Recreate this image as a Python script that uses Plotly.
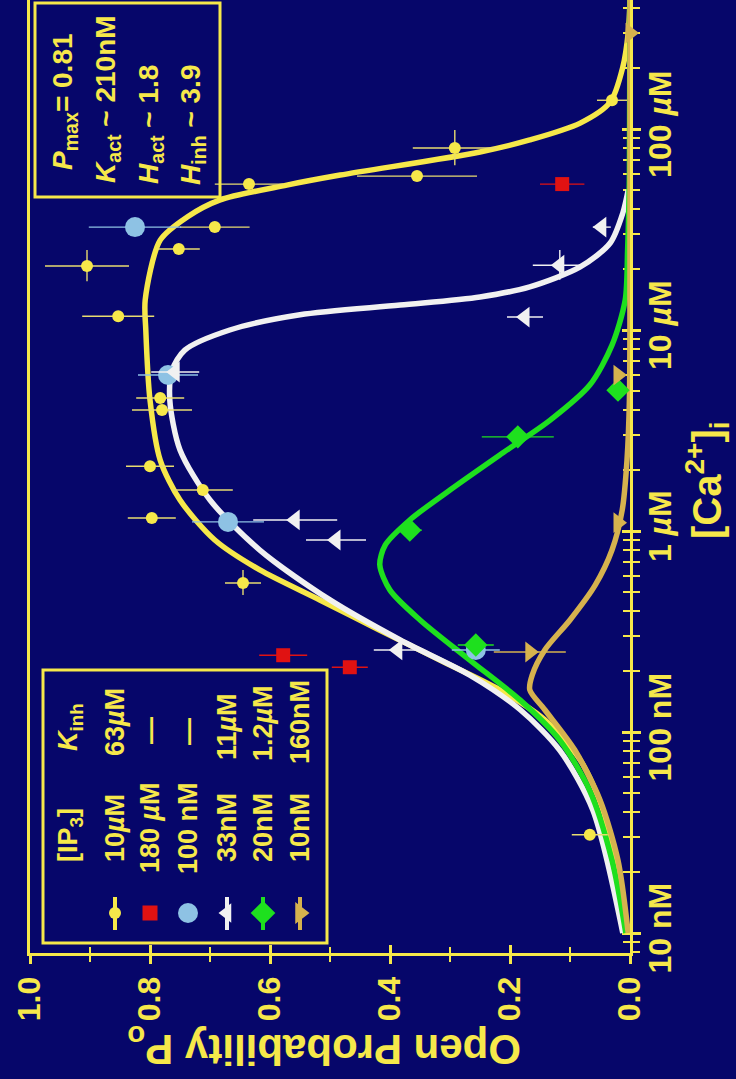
import plotly.graph_objects as go

# ---------------------------------------------------------------
# IP3 receptor open probability vs cytoplasmic free Ca2+
# Ca values in nM, open probability as a fraction
# ---------------------------------------------------------------

# Fitted curves (Ca, Po pairs)
ca_fit_10uM = [10, 18.4, 40.9, 72.6, 115, 162, 228, 321, 454, 640, 902, 1426, 2254, 4487,
               10000, 14100, 28000, 36500, 44400, 52600, 59000, 76900, 88200, 107000,
               136000, 203000, 300000, 438000]
po_fit_10uM = [0.005, 0.02, 0.045, 0.083, 0.142, 0.217, 0.317, 0.417, 0.517, 0.617, 0.692,
               0.75, 0.783, 0.80, 0.807, 0.808, 0.783, 0.738, 0.683, 0.572, 0.483, 0.25,
               0.167, 0.083, 0.033, 0.012, 0.003, 0.0]

ca_fit_33nM = [10, 40.9, 81, 129, 192, 287, 454, 804, 1426, 2530, 4487, 6320, 7940, 10000,
               11900, 13300, 14600, 16400, 20600, 27100, 38200, 49700]
po_fit_33nM = [0.012, 0.062, 0.117, 0.183, 0.267, 0.383, 0.50, 0.617, 0.70, 0.75, 0.767,
               0.763, 0.742, 0.667, 0.55, 0.383, 0.25, 0.167, 0.083, 0.033, 0.012, 0.003]

ca_fit_20nM = [10, 23, 51, 91, 144, 228, 361, 508, 678, 851, 1135, 1600, 2390, 3560, 5320,
               8410, 14100, 25000, 60000, 438000]
po_fit_20nM = [0.007, 0.03, 0.067, 0.117, 0.183, 0.267, 0.35, 0.40, 0.417, 0.408, 0.367,
               0.30, 0.217, 0.133, 0.067, 0.03, 0.008, 0.004, 0.001, 0.0]

ca_fit_10nM = [10, 23, 45.9, 81.3, 129, 162, 192, 256, 361, 538, 804, 1270, 2250, 4490,
               20000, 438000]
po_fit_10nM = [0.003, 0.02, 0.05, 0.092, 0.142, 0.167, 0.163, 0.142, 0.10, 0.058, 0.03,
               0.013, 0.005, 0.001, 0.0, 0.0]

# Measured points: Ca, Po, Po error (half width), Ca error bar ends
ca_10uM = [30.8, 551, 1160, 1600, 2100, 4000, 4590, 11700, 20800, 25300, 32500, 53200,
           58300, 80400, 139000]
po_10uM = [0.067, 0.645, 0.797, 0.712, 0.80, 0.78, 0.783, 0.853, 0.905, 0.752, 0.692,
           0.635, 0.355, 0.292, 0.03]
po_err_10uM = [0.03, 0.03, 0.04, 0.05, 0.04, 0.05, 0.04, 0.06, 0.07, 0.035, 0.058, 0.057,
               0.10, 0.07, 0.025]
ca_lo_10uM = [30.8, 480, 1160, 1600, 2100, 4000, 4590, 11700, 17500, 25300, 32500, 53200,
              58300, 66000, 139000]
ca_hi_10uM = [30.8, 640, 1160, 1600, 2100, 4000, 4590, 11700, 25000, 25300, 32500, 53200,
              58300, 99000, 139000]

ca_180uM = [210, 241, 53200]
po_180uM = [0.467, 0.578, 0.113]
po_err_180uM = [0.03, 0.04, 0.037]

ca_100nM = [256, 1110, 5970, 32500]
po_100nM = [0.257, 0.67, 0.77, 0.825]
po_err_100nM = [0.04, 0.06, 0.05, 0.077]

ca_33nM = [256, 902, 1135, 6180, 11600, 21000, 32500]
po_33nM = [0.387, 0.49, 0.558, 0.758, 0.175, 0.117, 0.047]
po_err_33nM = [0.04, 0.05, 0.07, 0.04, 0.03, 0.045, 0.015]
ca_lo_33nM = [256, 902, 1135, 6180, 11600, 17800, 32500]
ca_hi_33nM = [256, 902, 1135, 6180, 11600, 25000, 32500]

ca_20nM = [271, 1010, 2940, 5020]
po_20nM = [0.257, 0.367, 0.187, 0.02]
po_err_20nM = [0.03, 0.02, 0.06, 0.01]

ca_10nM = [250, 1100, 5970, 300000]
po_10nM = [0.167, 0.02, 0.02, 0.0]
po_err_10nM = [0.06, 0.0, 0.0, 0.0]

# Legend table text
ip3_labels = ["10<i>µ</i>M", "180 <i>µ</i>M", "100 nM", "33nM", "20nM", "10nM"]
kinh_labels = ["63<i>µ</i>M", "—", "—", "11<i>µ</i>M", "1.2<i>µ</i>M", "160nM"]
param_lines = ["<i>P</i><sub>max</sub>= 0.81", "<i>K</i><sub>act</sub> ~ 210nM",
               "<i>H</i><sub>act</sub> ~ 1.8", "<i>H</i><sub>inh</sub> ~ 3.9"]
po_ticks = [0.0, 0.2, 0.4, 0.6, 0.8, 1.0]
ca_ticks = [10, 100, 1000, 10000, 100000]
ca_tick_text = ["10 nM", "100 nM", "1 <i>µ</i>M", "10 <i>µ</i>M", "100 <i>µ</i>M"]

# ---------------------------------------------------------------
NAVY = "#06066a"
YEL = "#f6e84a"
WHITE = "#f1f1f1"
GREEN = "#1ee01e"
TAN = "#d6b24e"
RED = "#e01212"
BLUE = "#8ec2e4"
FONT = "Liberation Sans, Arial, sans-serif"

W, H = 736, 1079
L, R, T, B = 30, 106, 0, 126
PW, PH = W - L - R, H - T - B


def px(x):
    return (x - L) / PW


def py(y):
    return (T + PH - y) / PH


def bars(center, lo, hi):
    plus = [h - c for c, h in zip(center, hi)]
    minus = [c - l for c, l in zip(center, lo)]
    return plus, minus


fig = go.Figure()

# fitted curves
for ca, po, col in [(ca_fit_10uM, po_fit_10uM, YEL), (ca_fit_33nM, po_fit_33nM, WHITE),
                    (ca_fit_20nM, po_fit_20nM, GREEN), (ca_fit_10nM, po_fit_10nM, TAN)]:
    fig.add_trace(go.Scatter(x=po, y=ca, mode="lines",
                             line=dict(color=col, width=5.5, shape="spline", smoothing=0.8),
                             hoverinfo="skip", showlegend=False))


def points(ca, po, perr, col, symbol, size, ca_lo=None, ca_hi=None, ecol=None):
    ey = None
    if ca_lo is not None:
        plus, minus = bars(ca, ca_lo, ca_hi)
        ey = dict(type="data", symmetric=False, array=plus, arrayminus=minus,
                  color=ecol or col, thickness=1.4, width=0)
    fig.add_trace(go.Scatter(
        x=po, y=ca, mode="markers",
        marker=dict(symbol=symbol, size=size, color=col, line=dict(width=0)),
        error_x=dict(type="data", array=perr, color=ecol or col, thickness=1.4, width=0),
        error_y=ey, showlegend=False, hoverinfo="skip", cliponaxis=False))


points(ca_10uM, po_10uM, po_err_10uM, YEL, "circle", 12, ca_lo_10uM, ca_hi_10uM, "#e8dc70")
points(ca_180uM, po_180uM, po_err_180uM, RED, "square", 14)
points(ca_100nM, po_100nM, po_err_100nM, BLUE, "circle", 20)
points(ca_33nM, po_33nM, po_err_33nM, WHITE, "triangle-left", 18, ca_lo_33nM, ca_hi_33nM)
points(ca_20nM, po_20nM, po_err_20nM, GREEN, "diamond", 18)
points(ca_10nM, po_10nM, po_err_10nM, TAN, "triangle-right", 18)

# overlay axes carrying the inward half of the crossing ticks
fig.add_trace(go.Scatter(x=[], y=[], xaxis="x2", yaxis="y2", showlegend=False, hoverinfo="skip"))

# legend glyphs drawn on a pixel-scaled overlay
leg_x = [115, 150, 188, 227, 263, 300]
leg_sym = ["circle", "square", "circle", "triangle-left", "diamond", "triangle-right"]
leg_col = [YEL, RED, BLUE, WHITE, GREEN, TAN]
leg_size = [12, 15, 20, 17, 19, 19]
leg_line = [True, False, False, True, True, True]
for xx, s, c, sz, ln in zip(leg_x, leg_sym, leg_col, leg_size, leg_line):
    if ln:
        fig.add_trace(go.Scatter(x=[xx, xx], y=[897, 930], mode="lines", line=dict(color=c, width=4),
                                 xaxis="x3", yaxis="y3", showlegend=False, hoverinfo="skip"))
    fig.add_trace(go.Scatter(x=[xx], y=[913], mode="markers", marker=dict(symbol=s, size=sz, color=c),
                             xaxis="x3", yaxis="y3", showlegend=False, hoverinfo="skip"))

minor_ca = [m * 10 ** d for d in range(0, 6) for m in range(2, 10)]
minor_ca = [v for v in minor_ca if 7.9 <= v <= 440000 and v not in ca_ticks]
ca_range = [0.9005, 5.6418]

tickfont = dict(family=FONT, size=32, color=YEL, weight="bold")
common_x = dict(range=[1.0, 0.0], tickvals=po_ticks, showgrid=False, zeroline=False,
                ticklen=8, tickwidth=2.5, tickcolor=YEL,
                minor=dict(tickvals=[0.1, 0.3, 0.5, 0.7, 0.9], ticklen=6, tickwidth=2, tickcolor=YEL))
common_y = dict(type="log", range=ca_range, tickvals=ca_ticks, showgrid=False, zeroline=False,
                ticklen=8, tickwidth=2.5, tickcolor=YEL,
                minor=dict(tickvals=minor_ca, ticklen=7, tickwidth=2, tickcolor=YEL))

fig.update_layout(
    width=W, height=H, margin=dict(l=L, r=R, t=T, b=B),
    paper_bgcolor=NAVY, plot_bgcolor=NAVY, showlegend=False,
    xaxis=dict(**common_x, ticktext=[f"{v:.1f}" for v in po_ticks], tickangle=-90,
               ticks="outside", tickfont=tickfont, showline=True, linecolor=YEL, linewidth=3,
               minor_ticks="outside"),
    yaxis=dict(**common_y, ticktext=ca_tick_text, tickangle=-90, side="right",
               ticks="outside", tickfont=tickfont, showline=True, linecolor=YEL, linewidth=3,
               mirror=True, minor_ticks="outside", layer="below traces", ticklabelstandoff=-8),
    xaxis2=dict(**common_x, overlaying="x", anchor="y2", ticks="inside", showticklabels=False,
                showline=False, minor_ticks="inside", layer="below traces"),
    yaxis2=dict(**common_y, overlaying="y", anchor="x2", side="right", ticks="inside",
                showticklabels=False, showline=False, minor_ticks="inside", layer="below traces"),
    xaxis3=dict(range=[L, L + PW], overlaying="x", visible=False, anchor="y3"),
    yaxis3=dict(range=[T + PH, T], overlaying="y", visible=False, anchor="x3"),
)

ann = []
# axis titles
ann.append(dict(text="[Ca<sup>2+</sup>]<sub>i</sub>", x=px(707), y=py(480), textangle=-90,
                font=dict(family=FONT, size=40, color=YEL, weight="bold")))
ann.append(dict(text="Open Probability P<sub>o</sub>", x=px(324), y=py(1047), textangle=180,
                font=dict(family=FONT, size=42, color=YEL, weight="bold")))
# legend table
lf = dict(family=FONT, size=27, color=YEL, weight="bold")
ann.append(dict(text="[IP<sub>3</sub>]", x=px(70), y=py(835), textangle=-90, font=lf))
ann.append(dict(text="<i>K</i><sub>inh</sub>", x=px(70), y=py(727), textangle=-90, font=lf))
kinh_y = [722, 731, 731, 727, 723, 722]
for xx, t1, t2, ky in zip(leg_x, ip3_labels, kinh_labels, kinh_y):
    ann.append(dict(text=t1, x=px(xx), y=py(828), textangle=-90, font=lf))
    ann.append(dict(text=t2, x=px(xx), y=py(ky), textangle=-90, font=lf))
# parameter box
pf = dict(family=FONT, size=28, color=YEL, weight="bold")
for xx, t, cy in zip([65, 107, 150, 192], param_lines, [102, 99, 125, 125]):
    ann.append(dict(text=t, x=px(xx), y=py(cy), textangle=-90, font=pf))
for a in ann:
    a.update(xref="paper", yref="paper", showarrow=False, xanchor="center", yanchor="middle")
fig.update_layout(annotations=ann)

shapes = [
    dict(type="rect", x0=px(43), x1=px(327), y0=py(943), y1=py(670)),
    dict(type="rect", x0=px(35), x1=px(220), y0=py(197), y1=py(3)),
]
for s in shapes:
    s.update(xref="paper", yref="paper", line=dict(color=YEL, width=3), fillcolor="rgba(0,0,0,0)")
fig.update_layout(shapes=shapes)

fig.write_html("out.html")
